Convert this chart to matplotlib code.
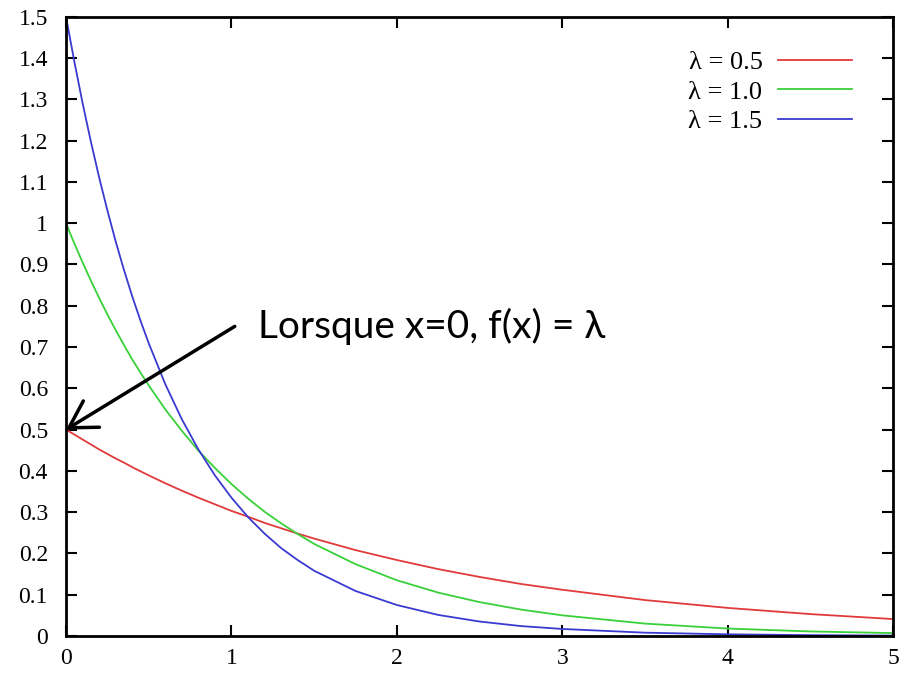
import matplotlib
matplotlib.use('Agg')
import matplotlib.pyplot as plt
from matplotlib.ticker import FuncFormatter

# points
x = [0, 0.05, 0.1, 0.15, 0.2, 0.25, 0.3, 0.35, 0.4, 0.45, 0.5,
     0.6, 0.7, 0.8, 0.9, 1.0, 1.1, 1.2, 1.3, 1.4, 1.5,
     1.75, 2.0, 2.25, 2.5, 2.75, 3.0, 3.5, 4.0, 4.5, 5.0]
y_05 = [0.500, 0.488, 0.476, 0.464, 0.452, 0.441, 0.430, 0.420, 0.409, 0.399, 0.389,
        0.370, 0.352, 0.335, 0.319, 0.303, 0.289, 0.274, 0.261, 0.248, 0.236,
        0.208, 0.184, 0.162, 0.143, 0.126, 0.112, 0.087, 0.068, 0.053, 0.041]
y_10 = [1.000, 0.951, 0.905, 0.861, 0.819, 0.779, 0.741, 0.705, 0.670, 0.638, 0.607,
        0.549, 0.497, 0.449, 0.407, 0.368, 0.333, 0.301, 0.273, 0.247, 0.223,
        0.174, 0.135, 0.105, 0.082, 0.064, 0.050, 0.030, 0.018, 0.011, 0.007]
y_15 = [1.500, 1.392, 1.291, 1.198, 1.111, 1.031, 0.956, 0.887, 0.823, 0.764, 0.709,
        0.610, 0.525, 0.452, 0.389, 0.335, 0.288, 0.248, 0.213, 0.184, 0.158,
        0.109, 0.075, 0.051, 0.035, 0.024, 0.017, 0.008, 0.004, 0.002, 0.001]
labels = ['λ = 0.5', 'λ = 1.0', 'λ = 1.5']
colors = ['#e03a3a', '#3ad03a', '#3a3ad0']

y_ticks = [i / 10 for i in range(16)]
x_ticks = [0, 1, 2, 3, 4, 5]

fig = plt.figure(figsize=(9.02, 6.76), dpi=100)
ax = fig.add_axes([0.0732, 0.0592, 0.917, 0.916])

for ys, lab, c in zip([y_05, y_10, y_15], labels, colors):
    ax.plot(x, ys, color=c, lw=1.3, label=lab)

ax.set_xlim(0, 5)
ax.set_ylim(0, 1.5)
ax.set_xticks(x_ticks)
ax.set_yticks(y_ticks)
ax.yaxis.set_major_formatter(FuncFormatter(lambda v, p: '%g' % round(v, 1)))
ax.tick_params(direction='in', length=8, width=1.5, top=True, right=True,
               labelsize=17)
ax.tick_params(axis='y', pad=13)
ax.tick_params(axis='x', pad=9)
for lbl in ax.get_xticklabels() + ax.get_yticklabels():
    lbl.set_fontfamily('Liberation Serif')
for s in ax.spines.values():
    s.set_linewidth(2)

leg = ax.legend(loc='upper right', bbox_to_anchor=(0.9504, 0.945),
                frameon=False, markerfirst=False,
                prop={'family': 'Liberation Serif', 'size': 19},
                handlelength=2.8, handletextpad=0.6, labelspacing=0.22,
                borderaxespad=0, borderpad=0)

# arrow + label
ax.annotate('', xy=(0, 0.5), xytext=(1.02, 0.75),
            arrowprops=dict(arrowstyle='->,head_length=0.63,head_width=0.37',
                            lw=2.5, color='black', mutation_scale=30,
                            shrinkA=0, shrinkB=0))
ax.text(1.16, 0.75, 'Lorsque x=0, f(x) = λ', fontsize=28, family='Lato',
        va='center', ha='left')

fig.savefig('out.png', dpi=100)
